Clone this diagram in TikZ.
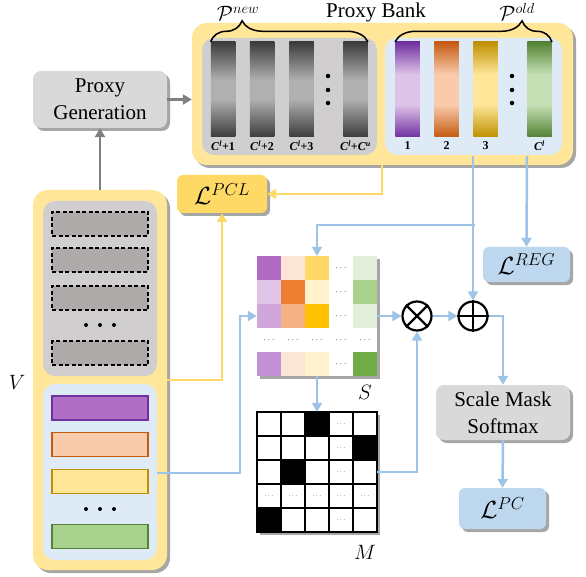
\documentclass[tikz,border=0pt]{standalone}
\usepackage[no-math]{fontspec}
\setmainfont{Liberation Serif}
\usetikzlibrary{arrows.meta,shadows,decorations.pathreplacing}

\definecolor{byel}{HTML}{FFE699}
\definecolor{dyel}{HTML}{FFD966}
\definecolor{gin}{HTML}{D0CECE}
\definecolor{bin}{HTML}{DEEBF7}
\definecolor{procg}{HTML}{D9D9D9}
\definecolor{lossb}{HTML}{BDD7EE}
\definecolor{blu}{HTML}{9DC3E6}
\definecolor{arg}{HTML}{808080}
\definecolor{dashg}{HTML}{AEAAAA}
% bar gradients
\definecolor{grdk}{HTML}{3C3C3C}
\definecolor{grlt}{HTML}{B0B0B0}
\definecolor{pudk}{HTML}{7030A0}
\definecolor{pult}{HTML}{DEC3E8}
\definecolor{ordk}{HTML}{C55A11}
\definecolor{orlt}{HTML}{F8CBAD}
\definecolor{godk}{HTML}{BF9000}
\definecolor{golt}{HTML}{FFE699}
\definecolor{gndk}{HTML}{548235}
\definecolor{gnlt}{HTML}{C5E0B4}
% V rect colours
\definecolor{vpuf}{HTML}{B06EC4}
\definecolor{vpud}{HTML}{7030A0}
\definecolor{vorf}{HTML}{F8CBAD}
\definecolor{vord}{HTML}{C55A11}
\definecolor{vyef}{HTML}{FFE699}
\definecolor{vyed}{HTML}{BF9000}
\definecolor{vgnf}{HTML}{A9D18E}
\definecolor{vgnd}{HTML}{548235}
% S cells
\definecolor{sa1}{HTML}{B06AC2}
\definecolor{sa2}{HTML}{FBE5D6}
\definecolor{sa3}{HTML}{FFD966}
\definecolor{sa5}{HTML}{E2EFDA}
\definecolor{sb1}{HTML}{E0C5E8}
\definecolor{sb2}{HTML}{ED7D31}
\definecolor{sb3}{HTML}{FFF2CC}
\definecolor{sb5}{HTML}{A9D18E}
\definecolor{sc1}{HTML}{CFA7DB}
\definecolor{sc2}{HTML}{F4B183}
\definecolor{sc3}{HTML}{FFC000}
\definecolor{sc5}{HTML}{E2EFDA}
\definecolor{se1}{HTML}{C490D6}
\definecolor{se2}{HTML}{FBE5D6}
\definecolor{se3}{HTML}{FFF2CC}
\definecolor{se5}{HTML}{70AD47}

\pgfdeclareverticalshading{shgray}{100bp}{color(0bp)=(grdk); color(25bp)=(grdk); color(45bp)=(grlt); color(55bp)=(grlt); color(75bp)=(grdk); color(100bp)=(grdk)}
\pgfdeclareverticalshading{shpur}{100bp}{color(0bp)=(pudk); color(25bp)=(pudk); color(42bp)=(pult); color(58bp)=(pult); color(75bp)=(pudk); color(100bp)=(pudk)}
\pgfdeclareverticalshading{shora}{100bp}{color(0bp)=(ordk); color(25bp)=(ordk); color(42bp)=(orlt); color(58bp)=(orlt); color(75bp)=(ordk); color(100bp)=(ordk)}
\pgfdeclareverticalshading{shgol}{100bp}{color(0bp)=(godk); color(25bp)=(godk); color(42bp)=(golt); color(58bp)=(golt); color(75bp)=(godk); color(100bp)=(godk)}
\pgfdeclareverticalshading{shgrn}{100bp}{color(0bp)=(gndk); color(25bp)=(gndk); color(42bp)=(gnlt); color(58bp)=(gnlt); color(75bp)=(gndk); color(100bp)=(gndk)}

\newcommand\Scell[4]{\node[scell,fill=#3] (S#1#2) at ({257+12+24*(#2-1)},{256+12+24*(#1-1)}) {#4};}
\newcommand\Mcell[4]{\node[mcell,fill=#3] (M#1#2) at ({257+12+24*(#2-1)},{412+12+24*(#1-1)}) {#4};}
\newcommand\sd{$\cdots$}

\begin{document}
\begin{tikzpicture}[x=1pt,y=-1pt,
  shd/.style={drop shadow={shadow xshift=3pt,shadow yshift=-3pt,opacity=0.35,fill=black}},
  outerbox/.style={fill=byel,rounded corners=15pt,shd,inner sep=0,draw=none},
  innergray/.style={fill=gin,rounded corners=12pt,inner sep=0},
  innerblue/.style={fill=bin,rounded corners=12pt,inner sep=0},
  procbox/.style={fill=procg,rounded corners=8pt,shd,inner sep=0,align=center,font=\fontsize{21}{27}\selectfont},
  lossy/.style={fill=dyel,rounded corners=6pt,shd,inner sep=0,font=\fontsize{24}{28}\selectfont},
  lossbl/.style={fill=lossb,rounded corners=6pt,shd,inner sep=0,font=\fontsize{24}{28}\selectfont},
  bar/.style={minimum width=24.5pt,minimum height=95pt,inner sep=0,shade},
  barlab/.style={font=\fontsize{12}{12}\selectfont\bfseries,inner sep=0},
  vdot/.style={circle,fill=black,inner sep=0,minimum size=4.5pt},
  grect/.style={fill=dashg,draw=black,line width=1.2pt,dash pattern=on 4pt off 2.5pt,minimum width=96pt,minimum height=24pt,inner sep=0},
  crect/.style={minimum width=96pt,minimum height=24pt,inner sep=0,line width=1.3pt},
  scell/.style={minimum size=24pt,inner sep=0,font=\fontsize{9}{9}\selectfont},
  mcell/.style={minimum size=24pt,inner sep=0,draw=black,line width=1.2pt,font=\fontsize{6}{6}\selectfont},
  garrow/.style={draw=arg,line width=2.5pt,-{Triangle[length=9pt,width=10pt]}},
  barrow/.style={draw=blu,line width=2.5pt,-{Triangle[length=9pt,width=10pt]}},
  yarrow/.style={draw=dyel,line width=2.5pt,-{Triangle[length=9pt,width=10pt]}},
  opnode/.style={circle,draw=black,line width=2.2pt,minimum size=29pt,inner sep=0,fill=white},
  mathlab/.style={font=\fontsize{21}{24}\selectfont,inner sep=0},
  bracestyle/.style={draw=black,line width=1.5pt,decorate},
]
\useasboundingbox (0,0) rectangle (586,577);

% ---------- Proxy Bank ----------
\node[outerbox,minimum width=381pt,minimum height=142pt] (PB) at (382.5,94) {};
\node[innergray,minimum width=175pt,minimum height=117pt] (PBg) at (289.5,96.5) {};
\node[innerblue,minimum width=177pt,minimum height=117pt] (PBb) at (473.5,96.5) {};
\node[mathlab,anchor=base] (PBt) at (376,18) {Proxy Bank};

\node[bar,shading=shgray] (g1) at (223,89.5) {};
\node[bar,shading=shgray] (g2) at (262,89.5) {};
\node[bar,shading=shgray] (g3) at (301.5,89.5) {};
\node[bar,shading=shgray] (g4) at (355.5,89.5) {};
\node[vdot] (gd1) at (328,76) {};
\node[vdot] (gd2) at (328,90) {};
\node[vdot] (gd3) at (328,103) {};

\node[bar,shading=shpur] (c1) at (407.5,89.5) {};
\node[bar,shading=shora] (c2) at (446.5,89.5) {};
\node[bar,shading=shgol] (c3) at (485.5,89.5) {};
\node[bar,shading=shgrn] (c4) at (539.5,89.5) {};
\node[vdot] (cd1) at (512,76) {};
\node[vdot] (cd2) at (512,90) {};
\node[vdot] (cd3) at (512,103) {};

\node[barlab] (lg1) at (223,146) {\textit{C}\textsuperscript{\textit{l}}+1};
\node[barlab] (lg2) at (262,146) {\textit{C}\textsuperscript{\textit{l}}+2};
\node[barlab] (lg3) at (301.5,146) {\textit{C}\textsuperscript{\textit{l}}+3};
\node[barlab] (lg4) at (355.5,146) {\textit{C}\textsuperscript{\textit{l}}+\textit{C}\textsuperscript{\textit{u}}};
\node[barlab] (lc1) at (407.5,146) {1};
\node[barlab] (lc2) at (446.5,146) {2};
\node[barlab] (lc3) at (485.5,146) {3};
\node[barlab] (lc4) at (539.5,146) {\textit{C}\textsuperscript{\textit{l}}};

\draw[bracestyle,decoration={brace,amplitude=21pt,aspect=0.2}] (g1.north west) -- (g4.north east);
\draw[bracestyle,decoration={brace,amplitude=21pt,aspect=0.81}] (c1.north west) -- (c4.north east);
\node[mathlab,anchor=base] (Pnew) at (238,21) {$\mathcal{P}^{new}$};
\node[mathlab,anchor=base] (Pold) at (517,21) {$\mathcal{P}^{old}$};

% ---------- Proxy Generation ----------
\node[procbox,minimum width=134pt,minimum height=57pt] (PG) at (100,99.5) {Proxy\\Generation};

% ---------- V ----------
\node[outerbox,minimum width=134pt,minimum height=380pt] (V) at (100,380) {};
\node[innergray,minimum width=114pt,minimum height=175pt] (Vg) at (100,288.5) {};
\node[innerblue,minimum width=114pt,minimum height=176pt] (Vb) at (100,472) {};
\node[grect] (d1) at (100,224) {};
\node[grect] (d2) at (100,260) {};
\node[grect] (d3) at (100,298) {};
\node[grect] (d4) at (100,353) {};
\node[vdot,minimum size=4pt] (vd1) at (86,325) {};
\node[vdot,minimum size=4pt] (vd2) at (100,325) {};
\node[vdot,minimum size=4pt] (vd3) at (114,325) {};
\node[crect,fill=vpuf,draw=vpud] (r1) at (100,408) {};
\node[crect,fill=vorf,draw=vord] (r2) at (100,444.5) {};
\node[crect,fill=vyef,draw=vyed] (r3) at (100,481.5) {};
\node[crect,fill=vgnf,draw=vgnd] (r4) at (100,536.5) {};
\node[vdot,minimum size=4pt] (vd4) at (86,509) {};
\node[vdot,minimum size=4pt] (vd5) at (100,509) {};
\node[vdot,minimum size=4pt] (vd6) at (114,509) {};
\node[mathlab] (Vl) at (17,382) {$V$};

% ---------- losses ----------
\node[lossy,minimum width=90pt,minimum height=38pt] (LPCL) at (222,194) {$\mathcal{L}^{PCL}$};
\node[lossbl,minimum width=87pt,minimum height=35pt] (LREG) at (526.5,264.5) {$\mathcal{L}^{REG}$};
\node[lossbl,minimum width=87pt,minimum height=41pt] (LPC) at (502.5,508.5) {$\mathcal{L}^{PC}$};
\node[procbox,minimum width=134pt,minimum height=55pt] (SM) at (503,412.5) {Scale Mask\\Softmax};

% ---------- S matrix ----------
\node[fill=white,shd,minimum size=120pt,inner sep=0] (Smat) at (317,316) {};
\Scell{1}{1}{sa1}{}\Scell{1}{2}{sa2}{}\Scell{1}{3}{sa3}{}\Scell{1}{4}{white}{\sd}\Scell{1}{5}{sa5}{}
\Scell{2}{1}{sb1}{}\Scell{2}{2}{sb2}{}\Scell{2}{3}{sb3}{}\Scell{2}{4}{white}{\sd}\Scell{2}{5}{sb5}{}
\Scell{3}{1}{sc1}{}\Scell{3}{2}{sc2}{}\Scell{3}{3}{sc3}{}\Scell{3}{4}{white}{\sd}\Scell{3}{5}{sc5}{}
\Scell{4}{1}{white}{\sd}\Scell{4}{2}{white}{\sd}\Scell{4}{3}{white}{\sd}\Scell{4}{4}{white}{\sd}\Scell{4}{5}{white}{\sd}
\Scell{5}{1}{se1}{}\Scell{5}{2}{se2}{}\Scell{5}{3}{se3}{}\Scell{5}{4}{white}{\sd}\Scell{5}{5}{se5}{}
\node[mathlab] (Sl) at (365,392) {$S$};

% ---------- M matrix ----------
\node[fill=white,shd,minimum size=120pt,inner sep=0] (Mmat) at (317,472) {};
\Mcell{1}{1}{white}{}\Mcell{1}{2}{white}{}\Mcell{1}{3}{black}{}\Mcell{1}{4}{white}{\sd}\Mcell{1}{5}{white}{}
\Mcell{2}{1}{white}{}\Mcell{2}{2}{white}{}\Mcell{2}{3}{white}{}\Mcell{2}{4}{white}{\sd}\Mcell{2}{5}{black}{}
\Mcell{3}{1}{white}{}\Mcell{3}{2}{black}{}\Mcell{3}{3}{white}{}\Mcell{3}{4}{white}{\sd}\Mcell{3}{5}{white}{}
\Mcell{4}{1}{white}{\sd}\Mcell{4}{2}{white}{\sd}\Mcell{4}{3}{white}{\sd}\Mcell{4}{4}{white}{\sd}\Mcell{4}{5}{white}{\sd}
\Mcell{5}{1}{black}{}\Mcell{5}{2}{white}{}\Mcell{5}{3}{white}{}\Mcell{5}{4}{white}{\sd}\Mcell{5}{5}{white}{}
\node[mathlab] (Ml) at (365,552) {$M$};

% ---------- operators ----------
\node[opnode] (ot) at (417,316) {};
\draw[line width=2.2pt] (ot.north west) -- (ot.south east) (ot.north east) -- (ot.south west);
\node[opnode] (op) at (473,316) {};
\draw[line width=2.2pt] (op.north) -- (op.south) (op.west) -- (op.east);

% ---------- connectors ----------
\coordinate (p3) at (473,156);
\coordinate (p4) at (527,156);
\coordinate (br) at (475,225);
\coordinate (py) at (382,165);
\coordinate (vy) at (167,380);
\coordinate (vb) at (157,473);
\coordinate (bc) at (240,316);

\draw[garrow] (V.north) -- (PG.south);
\draw[garrow] (PG.east) -- (PG.east -| PB.west);

\draw[yarrow] (py) |- (LPCL.east);
\draw[yarrow] (vy) -| (LPCL.south);

\draw[barrow] (p3) -- (op.north);
\draw[barrow] (br) -| (Smat.north);
\draw[barrow] (p4) -- (LREG.north);
\draw[barrow] (vb) -| (bc) -- (Smat.west);
\draw[barrow] (Smat.east) -- (ot.west);
\draw[barrow] (ot.east) -- (op.west);
\draw[barrow] (Smat.south) -- (Mmat.north);
\draw[barrow] (Mmat.east) -| (ot.south);
\draw[barrow] (op.east) -| (SM.north);
\draw[barrow] (SM.south) -- (LPC.north);
\end{tikzpicture}
\end{document}
